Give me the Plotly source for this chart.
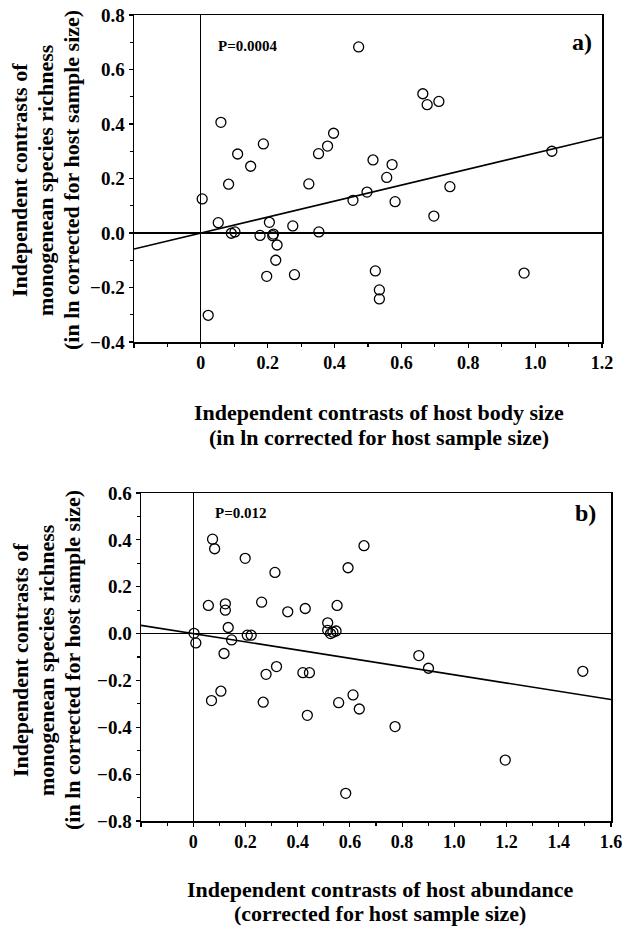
import plotly.graph_objects as go

# ---- Panel a data: host body size vs monogenean richness ----
a_x = [0.472, 0.664, 0.677, 0.712, 0.060, 0.397, 0.187, 0.379, 0.110, 0.352,
       0.149, 0.515, 0.572, 1.050, 0.083, 0.323, 0.556, 0.745, 0.004, 0.455,
       0.497, 0.581, 0.697, 0.052, 0.205, 0.275, 0.091, 0.102, 0.177, 0.215,
       0.217, 0.353, 0.228, 0.224, 0.197, 0.280, 0.522, 0.534, 0.534, 0.967,
       0.022]
a_y = [0.683, 0.511, 0.471, 0.483, 0.406, 0.366, 0.327, 0.319, 0.290, 0.291,
       0.245, 0.268, 0.251, 0.300, 0.179, 0.180, 0.204, 0.170, 0.125, 0.120,
       0.150, 0.115, 0.062, 0.038, 0.039, 0.026, -0.001, 0.004, -0.009, -0.010,
       -0.004, 0.004, -0.044, -0.100, -0.159, -0.153, -0.139, -0.209, -0.242, -0.147,
       -0.302]
a_slope = 0.293
a_xrange = [-0.2, 1.2]
a_yrange = [-0.4, 0.8]
a_xticks = [-0.2, 0, 0.2, 0.4, 0.6, 0.8, 1.0, 1.2]
a_xticktext = ["", "0", "0.2", "0.4", "0.6", "0.8", "1.0", "1.2"]
a_yticks = [-0.4, -0.2, 0.0, 0.2, 0.4, 0.6, 0.8]
a_p = "P=0.0004"

# ---- Panel b data: host abundance vs monogenean richness ----
b_x = [0.074, 0.082, 0.199, 0.313, 0.654, 0.593, 0.058, 0.123, 0.123, 0.262,
       0.362, 0.429, 0.551, 0.134, 0.515, 0.515, 0.526, 0.535, 0.547, 0.003,
       0.010, 0.147, 0.207, 0.222, 0.118, 0.319, 0.279, 0.420, 0.445, 0.864,
       0.901, 1.492, 0.106, 0.070, 0.268, 0.437, 0.557, 0.612, 0.636, 0.773,
       1.195, 0.584]
b_y = [0.403, 0.362, 0.321, 0.261, 0.375, 0.281, 0.120, 0.127, 0.100, 0.134,
       0.093, 0.107, 0.120, 0.026, 0.046, 0.014, 0.000, 0.006, 0.011, 0.001,
       -0.040, -0.027, -0.007, -0.007, -0.085, -0.141, -0.174, -0.167, -0.167, -0.094,
       -0.148, -0.161, -0.246, -0.286, -0.293, -0.349, -0.295, -0.262, -0.322, -0.397,
       -0.540, -0.682]
b_slope = -0.176
b_xrange = [-0.2, 1.6]
b_yrange = [-0.8, 0.6]
b_xticks = [-0.2, 0, 0.2, 0.4, 0.6, 0.8, 1.0, 1.2, 1.4, 1.6]
b_xticktext = ["", "0", "0.2", "0.4", "0.6", "0.8", "1.0", "1.2", "1.4", "1.6"]
b_yticks = [-0.8, -0.6, -0.4, -0.2, 0.0, 0.2, 0.4, 0.6]
b_p = "P=0.012"

y_title_lines = ["Independent contrasts of",
                 "monogenean species richness",
                 "(in ln corrected for host sample size)"]
a_x_title_lines = ["Independent contrasts of host body size",
                   "(in ln corrected for host sample size)"]
b_x_title_lines = ["Independent contrasts of host abundance",
                   "(corrected for host sample size)"]

W, H = 622, 927
FONT = "Liberation Serif"


def fx(px):
    return px / W


def fy(py):
    return 1 - py / H


fig = go.Figure()

marker = dict(symbol="circle-open", size=10, color="black", line=dict(width=1.3, color="black"))

fig.add_trace(go.Scatter(x=a_x, y=a_y, mode="markers", marker=marker,
                         xaxis="x", yaxis="y", showlegend=False))
fig.add_trace(go.Scatter(x=a_xrange, y=[a_slope * v for v in a_xrange], mode="lines",
                         line=dict(color="black", width=1.6), xaxis="x", yaxis="y",
                         showlegend=False))
fig.add_trace(go.Scatter(x=b_x, y=b_y, mode="markers", marker=marker,
                         xaxis="x2", yaxis="y2", showlegend=False))
fig.add_trace(go.Scatter(x=b_xrange, y=[b_slope * v for v in b_xrange], mode="lines",
                         line=dict(color="black", width=1.6), xaxis="x2", yaxis="y2",
                         showlegend=False))

xtickfont = dict(family=FONT, size=18, color="black", weight="bold")
ytickfont = dict(family=FONT, size=19, color="black", weight="bold")


def axis_common(tf):
    return dict(showgrid=False, showline=True, linecolor="black", linewidth=1.5,
                mirror=True, ticks="outside", ticklen=4, tickwidth=1.2, tickcolor="black",
                zeroline=True, zerolinecolor="black", zerolinewidth=1.2,
                tickfont=tf, fixedrange=True, automargin=False,
                ticklabeloverflow="allow")


minor = dict(tickmode="linear", tick0=0, dtick=0.1, ticks="outside",
             ticklen=3, tickcolor="black")

fig.update_layout(
    width=W, height=H,
    margin=dict(l=0, r=0, t=0, b=0),
    paper_bgcolor="white", plot_bgcolor="white",
    xaxis=dict(domain=[fx(134), fx(602)], range=a_xrange, anchor="y",
               tickmode="array", tickvals=a_xticks, ticktext=a_xticktext,
               minor=minor, **axis_common(xtickfont)),
    yaxis=dict(domain=[fy(342), fy(15)], range=a_yrange, anchor="x",
               tickmode="array", tickvals=a_yticks, tickformat=".1f",
               minor=minor, **axis_common(ytickfont)),
    xaxis2=dict(domain=[fx(141), fx(611)], range=b_xrange, anchor="y2",
                tickmode="array", tickvals=b_xticks, ticktext=b_xticktext,
                minor=minor, **axis_common(xtickfont)),
    yaxis2=dict(domain=[fy(821), fy(493)], range=b_yrange, anchor="x2",
                tickmode="array", tickvals=b_yticks, tickformat=".1f",
                minor=minor, **axis_common(ytickfont)),
)

title_font = dict(family=FONT, size=22, color="black", weight="bold")
label_font = dict(family=FONT, size=15, color="black", weight="bold")
panel_font = dict(family=FONT, size=24, color="black", weight="bold")

ann = []
for i, line in enumerate(y_title_lines):
    ann.append(dict(text=line, x=fx(19 + 26 * i), y=fy(180), textangle=-90, font=title_font))
    ann.append(dict(text=line, x=fx(20 + 26 * i), y=fy(660), textangle=-90, font=title_font))
for i, line in enumerate(a_x_title_lines):
    ann.append(dict(text=line, x=fx(379), y=fy(412 + 25 * i), font=title_font))
for i, line in enumerate(b_x_title_lines):
    ann.append(dict(text=line, x=fx(380), y=fy(889 + 24 * i), font=title_font))
ann += [
    dict(text=a_p, x=fx(216), y=fy(46), xanchor="left", font=label_font),
    dict(text=b_p, x=fx(213), y=fy(513), xanchor="left", font=label_font),
    dict(text="a)", x=fx(594), y=fy(42), xanchor="right", font=panel_font),
    dict(text="b)", x=fx(598), y=fy(513), xanchor="right", font=panel_font),
]
for a in ann:
    a.update(xref="paper", yref="paper", showarrow=False)
    if "xanchor" not in a:
        a["xanchor"] = "center"
    a["yanchor"] = "middle"
fig.update_layout(annotations=ann)

# remove the default page margin so the figure sits at the window's top-left corner
fig.write_html("out.html",
               config={"displayModeBar": False, "staticPlot": True},
               post_script="document.body.style.margin='0';"
                           "document.body.style.overflow='hidden';")
